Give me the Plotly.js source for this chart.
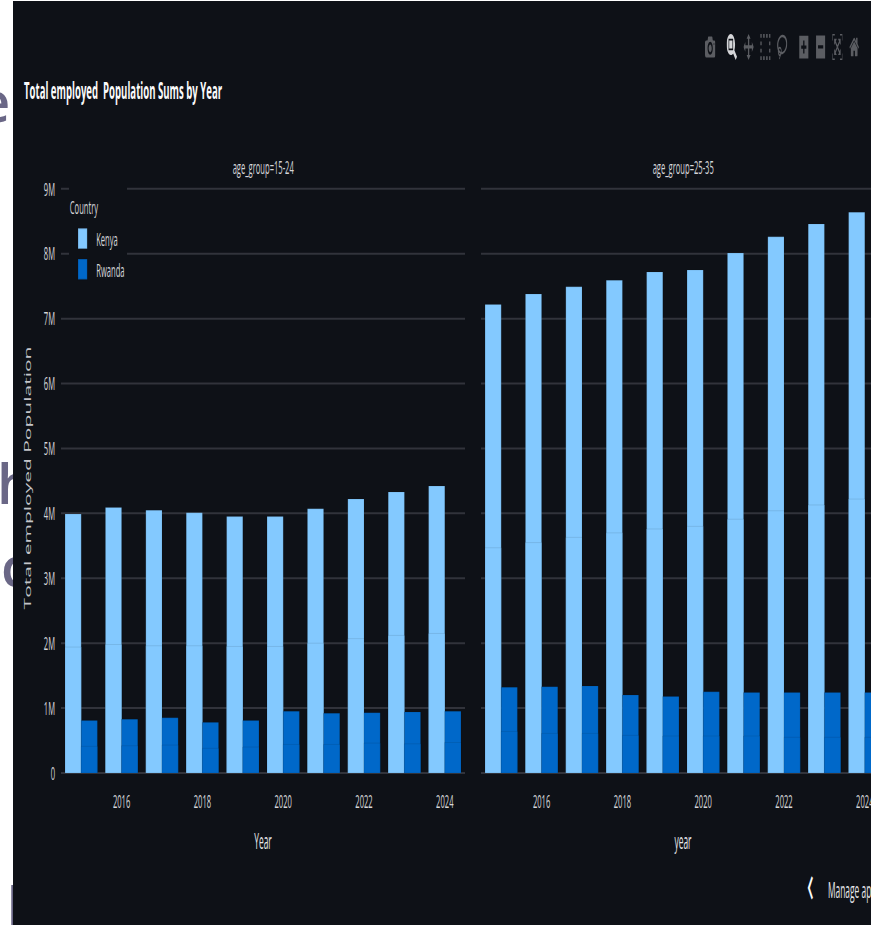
<!DOCTYPE html>
<html><head><meta charset="utf-8">
<script src="https://cdn.plot.ly/plotly-3.0.1.min.js"></script>
<style>
html,body{margin:0;padding:0;background:#fff;width:871px;height:925px;overflow:hidden}
.frag{position:absolute;color:#6a6786;font-family:'Open Sans';font-weight:600;line-height:1;white-space:pre}
#panel{position:absolute;left:13px;top:1px;width:858px;height:924px;background:#0e1117;overflow:hidden}
#plot{position:absolute;left:0;top:-1px;width:2218px;height:925px;transform:scale(.4,1);transform-origin:0 0}
#manage{position:absolute;left:815px;top:875px;transform:scale(.4,1);transform-origin:0 0;color:#e6e7ea;font:21px 'Open Sans';white-space:pre}
#chev{position:absolute;left:794px;top:842px;transform:scale(.4,1);transform-origin:0 0;color:#fafafa;font:56px 'Open Sans'}
.modebar{top:32px!important;right:40px!important}
.modebar-btn{font-size:26px!important;padding:0 8px!important;height:30px!important}
.modebar-group{padding-left:12px!important}
</style></head><body>
<div class="frag" style="left:-22px;top:72px;font-size:56px">e</div>
<div class="frag" style="left:-3px;top:454px;font-size:56px">h</div>
<div class="frag" style="left:1px;top:537px;font-size:56px">c</div>
<div class="frag" style="left:6px;top:875px;font-size:56px">I</div>
<div id="panel">
<div id="plot"></div>
<div id="chev">‹</div>
<div id="manage">Manage app</div>
</div>
<script>
const years=[2015,2016,2017,2018,2019,2020,2021,2022,2023,2024];
const kenyaYoungTotal=[3.99,4.09,4.05,4.01,3.95,3.95,4.07,4.22,4.33,4.42];
const kenyaYoungLower=[1.94,1.98,1.96,1.96,1.95,1.95,2.00,2.07,2.12,2.15];
const rwandaYoungTotal=[0.81,0.83,0.85,0.78,0.81,0.95,0.92,0.93,0.94,0.95];
const rwandaYoungLower=[0.41,0.42,0.43,0.38,0.40,0.44,0.44,0.46,0.45,0.47];
const kenyaOlderTotal=[7.22,7.38,7.49,7.59,7.72,7.75,8.01,8.26,8.46,8.64];
const kenyaOlderLower=[3.47,3.55,3.63,3.70,3.76,3.80,3.91,4.04,4.13,4.22];
const rwandaOlderTotal=[1.32,1.33,1.34,1.20,1.18,1.25,1.24,1.24,1.24,1.24];
const rwandaOlderLower=[0.64,0.61,0.61,0.58,0.57,0.57,0.57,0.55,0.55,0.55];
const colors={Kenya:'#83c9ff',Rwanda:'#0068c9'};
const M=a=>a.map(v=>v*1e6);
function seg(name,lower,total,xa,ya,legend){
  const col=colors[name],line={width:1,color:'rgba(14,17,23,0.14)'};
  return [
   {type:'bar',x:years,y:M(total),name,offsetgroup:name,legendgroup:name,showlegend:legend,
    xaxis:xa,yaxis:ya,marker:{color:col,line}},
   {type:'bar',x:years,y:M(lower),name,offsetgroup:name,legendgroup:name,showlegend:false,
    xaxis:xa,yaxis:ya,marker:{color:col,line}}
  ];
}
const data=[
 ...seg('Kenya',kenyaYoungLower,kenyaYoungTotal,'x','y',true),
 ...seg('Rwanda',rwandaYoungLower,rwandaYoungTotal,'x','y',true),
 ...seg('Kenya',kenyaOlderLower,kenyaOlderTotal,'x2','y2',false),
 ...seg('Rwanda',rwandaOlderLower,rwandaOlderTotal,'x2','y2',false)
];
const sx=.4, W=2218, H=925, left=13;
const L=(61-left)/sx, R=W-(885-left)/sx, PW=W-L-R;
const d1=404/824, d2=1-404/824;
const tickFont={family:'Open Sans',size:19,color:'#d5d6d9'};
const xbase={range:[2014.5,2024.5],tickmode:'array',tickvals:[2016,2018,2020,2022,2024],ticktext:['2016','2018','2020','2022','2024'],
  showgrid:false,zeroline:false,showline:false,ticks:'',tickfont:tickFont,ticklabelstandoff:15,
  automargin:false};
const grid='#31333b';
const ticksY=[0,1e6,2e6,3e6,4e6,5e6,6e6,7e6,8e6,9e6];
const ticksYText=['0','1M','2M','3M','4M','5M','6M','7M','8M','9M'];
const layout={
 width:W,height:H,paper_bgcolor:'#0e1117',plot_bgcolor:'#0e1117',
 font:{family:'Open Sans',color:'#fafafa'},
 barmode:'group',bargap:0.2,bargroupgap:0,dragmode:'zoom',
 margin:{l:L,r:R,t:182.6,b:151.5,pad:0,autoexpand:false},
 title:{text:'<b>Total employed  Population Sums by Year</b>',x:(24-left)/sx/W,xanchor:'left',y:1-91/H,yanchor:'middle',
   font:{family:'Open Sans',size:24,color:'#fafafa'}},
 xaxis:{...xbase,domain:[0,d1],title:{text:'Year',standoff:21,font:{family:'Open Sans',size:21,color:'#e6e7ea'}}},
 xaxis2:{...xbase,domain:[d2,1],title:{text:'year',standoff:21,font:{family:'Open Sans',size:21,color:'#e6e7ea'}}},
 yaxis:{range:[0,9.09e6],tickvals:ticksY,ticktext:ticksYText,
   gridcolor:grid,gridwidth:2,zeroline:true,zerolinecolor:grid,zerolinewidth:2,ticks:'',tickfont:tickFont,ticklabelstandoff:14,automargin:false,
   title:{text:'Total employed Population',standoff:26,font:{family:'Open Sans',size:21,color:'#c4c5c9'}}},
 yaxis2:{anchor:'x2',matches:'y',range:[0,9.09e6],tickvals:ticksY,showticklabels:false,
   gridcolor:grid,gridwidth:2,zeroline:true,zerolinecolor:grid,zerolinewidth:2,ticks:''},
 legend:{x:(69-61)/sx/(W-L-R),xanchor:'left',y:1-3/591,yanchor:'top',bgcolor:'#0e1117',traceorder:'grouped',tracegroupgap:9,itemwidth:58,
   title:{text:'Country',font:{family:'Open Sans',size:19,color:'#d5d6d9'}},font:{family:'Open Sans',size:19,color:'#d5d6d9'}},
 annotations:[
  {text:'age_group=15-24',xref:'paper',yref:'paper',x:d1/2,y:1,yanchor:'bottom',xanchor:'center',yshift:1,showarrow:false,font:{family:'Open Sans',size:19,color:'#d5d6d9'}},
  {text:'age_group=25-35',xref:'paper',yref:'paper',x:d2+d1/2,y:1,yanchor:'bottom',xanchor:'center',yshift:1,showarrow:false,font:{family:'Open Sans',size:19,color:'#d5d6d9'}}
 ],
 modebar:{bgcolor:'rgba(0,0,0,0)',color:'#5b5d62',activecolor:'#d5d6d9',orientation:'h'}
};
Plotly.newPlot('plot',data,layout,{displayModeBar:true,displaylogo:true,responsive:false}).then(()=>{
  // legend swatches in the source are large blocks; the rows sit lower under the legend title
  document.querySelectorAll('.legend .legendpoints path').forEach(p=>{
    p.setAttribute('transform',(p.getAttribute('transform')||'')+' scale(1.9,1.7)');
  });
  const sb=document.querySelector('.legend .scrollbox');
  if(sb){sb.removeAttribute('clip-path');sb.style.clipPath='none';}
  const shifts=[9,3];
  document.querySelectorAll('.legend .groups').forEach((g,i)=>{
    g.setAttribute('transform',(g.getAttribute('transform')||'')+' translate(0,'+(shifts[i]||0)+')');
  });
  const t=document.querySelector('.legend .legendtitletext');
  if(t){t.setAttribute('transform',(t.getAttribute('transform')||'')+' translate(0,3)');}
});
</script>
</body></html>
